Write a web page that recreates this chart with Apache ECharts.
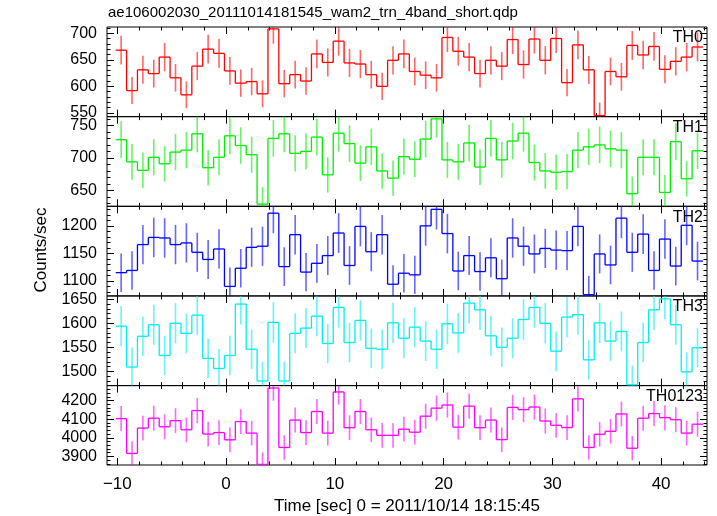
<!DOCTYPE html>
<html>
<head>
<meta charset="utf-8">
<script src="https://cdn.jsdelivr.net/npm/echarts@6/dist/echarts.min.js"></script>
<style>
html,body{margin:0;padding:0;background:#fff;}
#chart{width:717px;height:516px;}
</style>
</head>
<body>
<div id="chart"></div>
<script>
// ---------- DATA ----------
const titleText = 'ae106002030_20111014181545_wam2_trn_4band_short.qdp';
const xAxisTitle = 'Time [sec] 0 = 2011/10/14 18:15:45';
const yAxisTitle = 'Counts/sec';
const panelNames = ['TH0', 'TH1', 'TH2', 'TH3', 'TH0123'];

// bin centres (sec), bin width 1 s
const times = [-9.65,-8.65,-7.65,-6.65,-5.65,-4.65,-3.65,-2.65,-1.65,-0.65,
  0.35,1.35,2.35,3.35,4.35,5.35,6.35,7.35,8.35,9.35,
  10.35,11.35,12.35,13.35,14.35,15.35,16.35,17.35,18.35,19.35,
  20.35,21.35,22.35,23.35,24.35,25.35,26.35,27.35,28.35,29.35,
  30.35,31.35,32.35,33.35,34.35,35.35,36.35,37.35,38.35,39.35,
  40.35,41.35,42.35,43.35];
const binWidth = 1.0;

const th0 = [668,592,631,624,655,616,584,638,670,662,629,606,609,586,708,605,622,610,661,645,
  685,644,642,622,600,649,661,628,621,616,692,666,655,624,649,638,688,641,689,649,
  690,607,678,631,545,628,618,677,659,675,632,647,655,674];
const th0Err = [27.0,25.4,26.3,26.1,26.7,25.9,25.3,26.4,27.0,26.9,26.2,25.7,25.8,25.3,27.8,25.7,26.1,25.8,26.9,26.5,
  27.3,26.5,26.5,26.1,25.6,26.6,26.9,26.2,26.0,25.9,27.5,27.0,26.7,26.1,26.6,26.4,27.4,26.5,27.4,26.6,
  27.5,25.7,27.2,26.3,24.4,26.2,26.0,27.2,26.8,27.1,26.3,26.6,26.7,27.1];

const th1 = [728,694,681,701,691,709,712,737,685,701,734,719,705,629,730,737,707,710,732,674,
  738,722,692,717,680,669,702,698,729,760,697,694,723,686,730,697,726,738,693,680,
  678,679,712,717,720,714,712,645,701,701,647,725,668,711];
const th1Err = [28.2,27.5,27.3,27.7,27.5,27.8,27.9,28.4,27.3,27.7,28.3,28.0,27.7,26.2,28.2,28.4,27.8,27.8,28.3,27.1,
  28.4,28.1,27.5,28.0,27.3,27.0,27.7,27.6,28.2,28.8,27.6,27.5,28.1,27.4,28.2,27.6,28.2,28.4,27.5,27.3,
  27.2,27.2,27.9,28.0,28.0,27.9,27.9,26.5,27.7,27.7,26.6,28.1,27.0,27.9];

const th2 = [1115,1119,1166,1179,1178,1166,1169,1152,1139,1158,1090,1123,1161,1163,1223,1126,1184,1116,1132,1146,
  1187,1128,1199,1153,1184,1094,1114,1111,1200,1230,1186,1118,1146,1117,1142,1104,1178,1163,1149,1159,
  1156,1155,1199,1075,1149,1129,1214,1152,1185,1119,1176,1127,1201,1136];
const th2Err = [34.9,35.0,35.7,35.9,35.8,35.7,35.7,35.5,35.3,35.6,34.5,35.0,35.6,35.6,36.5,35.1,35.9,34.9,35.2,35.4,
  36.0,35.1,36.2,35.5,35.9,34.6,34.9,34.8,36.2,36.6,36.0,35.0,35.4,34.9,35.3,34.7,35.8,35.6,35.4,35.6,
  35.5,35.5,36.2,34.3,35.4,35.1,36.4,35.5,36.0,35.0,35.8,35.1,36.2,35.2];

const th3 = [1594,1509,1573,1597,1533,1600,1579,1617,1527,1506,1533,1640,1546,1480,1602,1480,1579,1590,1615,1558,
  1633,1560,1606,1548,1546,1601,1569,1592,1563,1546,1599,1580,1642,1628,1574,1550,1569,1608,1633,1600,
  1542,1613,1618,1524,1601,1563,1583,1472,1560,1628,1651,1597,1499,1549];
const th3Err = [41.7,40.6,41.4,41.7,40.9,41.8,41.5,42.0,40.8,40.5,40.9,42.3,41.1,40.2,41.8,40.2,41.5,41.6,42.0,41.2,
  42.2,41.2,41.8,41.1,41.1,41.8,41.4,41.7,41.3,41.1,41.8,41.5,42.3,42.1,41.4,41.1,41.4,41.9,42.2,41.8,
  41.0,41.9,42.0,40.8,41.8,41.3,41.5,40.1,41.2,42.1,42.4,41.7,40.4,41.1];

const th0123 = [4103,3916,4052,4105,4059,4092,4043,4146,4020,4028,3989,4087,4025,3857,4267,3948,4095,4028,4141,4025,
  4246,4054,4141,4043,4013,4013,4046,4030,4116,4159,4176,4057,4170,4054,4095,3990,4163,4151,4165,4090,
  4067,4055,4209,3948,4019,4035,4128,3944,4105,4130,4108,4097,4025,4073];
const th0123Err = [66.9,65.4,66.5,67.0,66.6,66.8,66.4,67.3,66.3,66.3,66.0,66.8,66.3,64.9,68.3,65.7,66.9,66.3,67.2,66.3,
  68.1,66.5,67.2,66.4,66.2,66.2,66.5,66.3,67.0,67.4,67.5,66.6,67.5,66.5,66.9,66.0,67.4,67.3,67.4,66.8,
  66.6,66.5,67.8,65.7,66.2,66.4,67.1,65.6,67.0,67.2,67.0,66.9,66.3,66.7];

// tick labels
const xMajorTicks = [-10, 0, 10, 20, 30, 40];
const xMinorStep = 2;
const yMajorTicks = [
  [550, 600, 650, 700],
  [650, 700, 750],
  [1100, 1150, 1200],
  [1500, 1550, 1600, 1650],
  [3900, 4000, 4100, 4200]
];
const yMinorSteps = [10, 10, 10, 10, 20];

// ---------- LAYOUT / STYLE ----------
const xRange = [-10.95, 44.22];
const yRanges = [[543, 711.6], [625.7, 763.4], [1072.7, 1235.5], [1470.4, 1656.9], [3854, 4280]];
const colors = ['#ff0000', '#00ee00', '#0000ff', '#00eeee', '#ff00ff'];
const values = [th0, th1, th2, th3, th0123];
const errors = [th0Err, th1Err, th2Err, th3Err, th0123Err];

const FONT = '"Liberation Sans", Arial, Helvetica, sans-serif';
const gridLeft = 107, gridRight = 10, topStart = 27, panelH = 89.65;

function range(a, b, s) { const r = []; for (let v = a; v <= b + 1e-9; v += s) r.push(Math.round(v * 1000) / 1000); return r; }
const xMinorTicks = range(-10, 44, xMinorStep);

const grids = [], xAxes = [], yAxes = [], series = [], graphics = [];
const tickLine = { color: '#000', width: 1 };

for (let i = 0; i < 5; i++) {
  grids.push({ left: gridLeft, right: gridRight, top: topStart + panelH * i, height: panelH,
    show: true, borderColor: '#000', borderWidth: 1, backgroundColor: 'transparent', containLabel: false });
  const isBottom = i === 4;
  const xBase = { gridIndex: i, type: 'value', min: xRange[0], max: xRange[1],
    axisLine: { show: false, onZero: false }, splitLine: { show: false } };
  xAxes.push(Object.assign({}, xBase, { position: 'bottom',
    axisTick: { show: true, inside: true, length: 7, customValues: xMajorTicks, lineStyle: tickLine },
    axisLabel: { show: isBottom, customValues: xMajorTicks, color: '#000', fontSize: 17, fontFamily: FONT, margin: 11,
      formatter: v => (v < 0 ? '\u2212' + Math.abs(v) : String(v)) },
    name: isBottom ? xAxisTitle : '', nameLocation: 'middle', nameGap: 33,
    nameTextStyle: { color: '#000', fontSize: 17, fontFamily: FONT } }));
  xAxes.push(Object.assign({}, xBase, { position: 'bottom',
    axisTick: { show: true, inside: true, length: 3.5, customValues: xMinorTicks, lineStyle: tickLine },
    axisLabel: { show: false } }));
  xAxes.push(Object.assign({}, xBase, { position: 'top',
    axisTick: { show: true, inside: true, length: 7, customValues: xMajorTicks, lineStyle: tickLine },
    axisLabel: { show: false } }));
  xAxes.push(Object.assign({}, xBase, { position: 'top',
    axisTick: { show: true, inside: true, length: 3.5, customValues: xMinorTicks, lineStyle: tickLine },
    axisLabel: { show: false } }));

  const yr = yRanges[i];
  const yMin = range(Math.ceil(yr[0] / yMinorSteps[i]) * yMinorSteps[i], yr[1], yMinorSteps[i]);
  const yBase = { gridIndex: i, type: 'value', min: yr[0], max: yr[1], scale: true,
    axisLine: { show: false, onZero: false }, splitLine: { show: false } };
  yAxes.push(Object.assign({}, yBase, { position: 'left',
    axisTick: { show: true, inside: true, length: 7, customValues: yMajorTicks[i], lineStyle: tickLine },
    axisLabel: { show: true, customValues: yMajorTicks[i], color: '#000', fontSize: 16, fontFamily: FONT, margin: 10,
      showMinLabel: true, showMaxLabel: true, formatter: v => String(v) } }));
  yAxes.push(Object.assign({}, yBase, { position: 'left',
    axisTick: { show: true, inside: true, length: 3.5, customValues: yMin, lineStyle: tickLine },
    axisLabel: { show: false } }));
  yAxes.push(Object.assign({}, yBase, { position: 'right',
    axisTick: { show: true, inside: true, length: 7, customValues: yMajorTicks[i], lineStyle: tickLine },
    axisLabel: { show: false } }));
  yAxes.push(Object.assign({}, yBase, { position: 'right',
    axisTick: { show: true, inside: true, length: 3.5, customValues: yMin, lineStyle: tickLine },
    axisLabel: { show: false } }));

  const vals = values[i], errs = errors[i], color = colors[i];
  const n = vals.length;
  const data = times.map((t, k) => [t, vals[k], errs[k], k < n - 1 ? vals[k + 1] : vals[k]]);
  series.push({
    type: 'custom', coordinateSystem: 'cartesian2d', xAxisIndex: i * 4, yAxisIndex: i * 4,
    data: data, silent: true, animation: false, encode: { x: 0, y: 1 },
    renderItem: function (params, api) {
      const cs = params.coordSys;
      const cy = y => Math.max(cs.y, Math.min(cs.y + cs.height, y));
      const t = api.value(0), v = api.value(1), e = api.value(2), vn = api.value(3);
      const h = binWidth / 2;
      const a = api.coord([t - h, v]), b = api.coord([t + h, v]);
      const bn = api.coord([t + h, vn]);
      const lo = api.coord([t, v - e]), hi = api.coord([t, v + e]);
      const ch = [];
      ch.push({ type: 'line', shape: { x1: lo[0], y1: cy(lo[1]), x2: hi[0], y2: cy(hi[1]) },
        style: { stroke: color, lineWidth: 1.6, opacity: 0.6 } });
      ch.push({ type: 'line', shape: { x1: a[0], y1: cy(a[1]), x2: b[0], y2: cy(b[1]) },
        style: { stroke: color, lineWidth: 1.3 } });
      if (params.dataIndex < n - 1) {
        ch.push({ type: 'line', shape: { x1: b[0], y1: cy(b[1]), x2: bn[0], y2: cy(bn[1]) },
          style: { stroke: color, lineWidth: 1.3 } });
      }
      return { type: 'group', children: ch };
    }
  });

  graphics.push({ type: 'text', right: 14, top: topStart + panelH * i + 3,
    style: { text: panelNames[i], fill: '#000', fontSize: 16, fontFamily: FONT } });
}

graphics.push({ type: 'text', left: 108, top: 5,
  style: { text: titleText, fill: '#000', fontSize: 15, fontFamily: FONT } });
graphics.push({ type: 'text', x: 41, y: 250, rotation: Math.PI / 2,
  style: { text: yAxisTitle, fill: '#000', fontSize: 17, fontFamily: FONT, align: 'center', verticalAlign: 'middle' } });

const chart = echarts.init(document.getElementById('chart'), null, { renderer: 'canvas' });
chart.setOption({
  animation: false,
  backgroundColor: '#fff',
  grid: grids, xAxis: xAxes, yAxis: yAxes, series: series, graphic: graphics
});
</script>
</body>
</html>
